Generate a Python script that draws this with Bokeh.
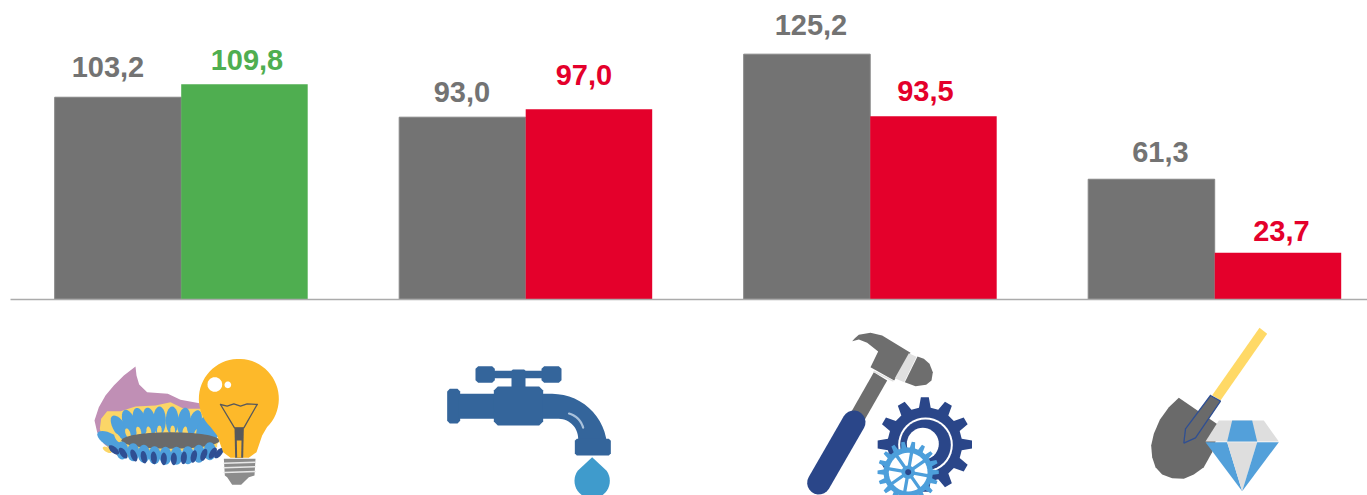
import numpy as np
from bokeh.plotting import figure
from bokeh.models import Range1d, ColumnDataSource
from bokeh.core.properties import value
from bokeh.embed import file_html
from bokeh.resources import INLINE

# ---- data ----
categories = ["Energy", "Water", "Manufacturing", "Mining"]
previous = [103.2, 93.0, 125.2, 61.3]
current = [109.8, 97.0, 93.5, 23.7]
current_colors = ["#4fae50", "#e4002b", "#e4002b", "#e4002b"]
previous_labels = ["103,2", "93,0", "125,2", "61,3"]
current_labels = ["109,8", "97,0", "93,5", "23,7"]

GRAY = "#737373"
W, H = 1367, 495
GROUP_PX, FIRST_PX, BASE_PX, PX_PER_UNIT = 344.5, 180.7, 298.7, 1.957
BAR = 126.5 / GROUP_PX

p = figure(width=W, height=H, output_backend="svg", toolbar_location=None,
           x_range=Range1d((0 - FIRST_PX) / GROUP_PX, (W - FIRST_PX) / GROUP_PX),
           y_range=Range1d(-(H - BASE_PX) / PX_PER_UNIT, BASE_PX / PX_PER_UNIT),
           min_border=0, outline_line_color=None)
p.extra_x_ranges = {"px": Range1d(0, W)}
p.extra_y_ranges = {"px": Range1d(H, 0)}
p.xaxis.visible = False
p.yaxis.visible = False
p.grid.visible = False
p.background_fill_color = "white"
PX = dict(x_range_name="px", y_range_name="px")

idx = np.arange(len(categories))
p.vbar(x=idx - BAR / 2, top=previous, bottom=0, width=BAR, fill_color=GRAY, line_color="#868686", line_width=1)
p.vbar(x=idx + BAR / 2, top=current, bottom=0, width=BAR, fill_color=current_colors, line_color=None)
p.segment(x0=[10], y0=[299], x1=[1367], y1=[299], line_color="#ababab", line_width=1.5, **PX)

prev_src = ColumnDataSource(dict(x=idx - BAR / 2, y=previous, t=previous_labels,
                                 dx=[-10, -0.5, 4, 9], dy=[-30, -25, -29, -27]))
curr_src = ColumnDataSource(dict(x=idx + BAR / 2, y=current, t=current_labels, c=current_colors,
                                 dx=[2.5, -5, -8, 3.5], dy=[-24, -34, -25, -22]))
common = dict(x="x", y="y", text="t", x_offset="dx", y_offset="dy", text_align="center",
              text_baseline="middle", text_font=value("Liberation Sans"),
              text_font_style="bold", text_font_size="29px")
p.text(source=prev_src, text_color=GRAY, **common)
p.text(source=curr_src, text_color="c", **common)


# ---- pictograms, drawn in zoom-crop coordinates (1/3 px) ----
class Icon:
    def __init__(self, ox, oy):
        self.ox, self.oy = ox, oy

    def poly(self, pts, color):
        a = np.array(pts, dtype=float)
        p.patch(self.ox + a[:, 0] / 3, self.oy + a[:, 1] / 3, fill_color=color, line_color=None, **PX)

    def line(self, pts, color, w=1.5):
        a = np.array(pts, dtype=float)
        p.line(self.ox + a[:, 0] / 3, self.oy + a[:, 1] / 3, line_color=color, line_width=w,
               line_cap="round", **PX)


def ell(cx, cy, a, b, rot=0.0, n=28):
    t = np.linspace(0, 2 * np.pi, n, endpoint=False)
    r = np.radians(rot)
    x, y = a * np.cos(t), b * np.sin(t)
    return list(zip(cx + x * np.cos(r) - y * np.sin(r), cy + x * np.sin(r) + y * np.cos(r)))


def capsule(x0, y0, x1, y1, r, n=12):
    ang = np.arctan2(y1 - y0, x1 - x0)
    t0 = np.linspace(ang + np.pi / 2, ang + 3 * np.pi / 2, n)
    t1 = np.linspace(ang - np.pi / 2, ang + np.pi / 2, n)
    return (list(zip(x0 + r * np.cos(t0), y0 + r * np.sin(t0))) +
            list(zip(x1 + r * np.cos(t1), y1 + r * np.sin(t1))))


def gear(cx, cy, r_out, r_in, teeth):
    pts = []
    for i in range(teeth):
        a = 2 * np.pi * i / teeth
        s = 2 * np.pi / teeth
        for frac, r in [(-0.30, r_in), (-0.16, r_out), (0.16, r_out), (0.30, r_in)]:
            pts.append((cx + r * np.cos(a + frac * s), cy + r * np.sin(a + frac * s)))
    return pts


def rrect(x0, y0, x1, y1, r=8):
    return [(x0 + r, y0), (x1 - r, y0), (x1, y0 + r), (x1, y1 - r), (x1 - r, y1), (x0 + r, y1), (x0, y1 - r), (x0, y0 + r)]


# burner + bulb
ic = Icon(80, 340)
ic.poly([(165, 78), (168, 105), (176, 132), (200, 155), (262, 160), (300, 178), (365, 190), (400, 300), (110, 345),
         (70, 310), (50, 275), (42, 240), (55, 200), (75, 165), (100, 135), (130, 105)], "#c08fb5")
ic.poly([(58, 265), (62, 235), (80, 212), (120, 212), (165, 198), (225, 195), (270, 185), (310, 205), (365, 205),
         (410, 260), (410, 320), (120, 350), (90, 330), (68, 300)], "#fbd667")
for cx, cy, rot in [(88, 298, -60), (118, 262, -32), (147, 248, -20), (178, 243, -15), (207, 243, -10), (237, 240, 0),
                    (275, 240, 0), (310, 243, 8), (343, 250, 15), (372, 258, 25), (398, 275, 35)]:
    ic.poly(ell(cx, cy, 19, 42, rot), "#4ea0dc")
    ic.poly(ell(cx + (cx - 245) * 0.05, cy + 30, 7, 15, rot), "#fbd667")
ic.poly(ell(270, 300, 148, 25), "#6a6a6a")
for cx, cy in [(125, 328), (158, 333), (190, 338), (222, 342), (255, 344), (288, 344), (322, 342), (355, 338), (388, 330)]:
    ic.poly(ell(cx, cy + 2, 18, 27), "#4ea0dc")
for cx, cy, rot in [(100, 328, -50), (128, 338, -35), (160, 345, -20), (190, 350, -10), (220, 352, -5), (250, 355, 0),
                    (280, 355, 0), (310, 352, 5), (340, 348, 12), (370, 343, 20), (397, 338, 30), (415, 338, 40)]:
    ic.poly(ell(cx, cy, 9, 19, rot), "#2f4f93")
t = np.radians(np.linspace(135, 405, 50))
bulb = list(zip(475 + 120 * np.cos(t), 175 + 120 * np.sin(t))) + [(545, 285), (528, 335), (505, 352), (450, 352), (428, 335), (410, 285)]
ic.poly(bulb, "#fdb92a")
ic.poly(ell(403, 132, 22, 22), "#ffffff")
ic.poly(ell(442, 133, 10, 10), "#ffffff")
ic.line([(420, 192), (440, 197), (460, 190), (480, 197), (500, 190), (530, 192)], "#58595b", 1.3)
ic.line([(420, 192), (462, 262), (490, 262), (530, 192)], "#58595b", 1.3)
ic.poly([(462, 262), (490, 262), (488, 352), (464, 352)], "#58595b")
ic.poly([(469, 300), (483, 300), (482, 352), (470, 352)], "#fdb92a")
ic.poly([(430, 355), (525, 355), (522, 405), (505, 410), (482, 433), (455, 433), (440, 410), (433, 405)], "#8c8c8c")
for y in (368, 382, 396):
    ic.line([(431, y), (524, y - 3)], "#e8e8e8", 1.5)

# faucet
ic = Icon(435, 355)
BLUE = "#34659b"
ic.poly(rrect(120, 32, 178, 82), BLUE)
ic.poly(rrect(318, 32, 378, 82), BLUE)
ic.poly([(175, 46), (320, 46), (320, 68), (175, 68)], BLUE)
ic.poly(rrect(228, 42, 270, 105, 4), BLUE)
ic.poly(rrect(35, 100, 74, 204), BLUE)
ic.poly([(70, 115), (180, 115), (180, 190), (70, 190)], BLUE)
ic.poly(rrect(175, 93, 323, 210, 12), BLUE)
a = np.radians(np.linspace(-90, 0, 16))
outer = list(zip(350 + 165 * np.cos(a), 280 + 165 * np.sin(a)))
a2 = np.radians(np.linspace(0, -90, 16))
inner = list(zip(370 + 58 * np.cos(a2), 250 + 60 * np.sin(a2)))
ic.poly([(320, 115)] + outer + [(515, 260), (428, 260)] + inner + [(320, 190)], BLUE)
ic.poly(rrect(418, 250, 526, 300, 6), BLUE)
a = np.radians(np.linspace(-75, -15, 10))
ic.line(list(zip(385 + 60 * np.cos(a), 232 + 60 * np.sin(a))), "#a9c2dc", 2.2)
t = np.radians(np.linspace(-35, 215, 30))
ic.poly([(470, 305)] + list(zip(470 + 53 * np.cos(t), 376 + 53 * np.sin(t))), "#3f9bcc")

# hammer + gears
ic = Icon(795, 325)
HAM = "#6e6e6e"
ic.poly([(235, 140), (275, 165), (208, 282), (168, 258)], HAM)
ic.poly([(170, 47), (178, 38), (190, 28), (225, 22), (260, 30), (345, 82), (296, 165), (225, 125), (248, 78), (215, 52), (190, 42)], HAM)
ic.line([(236, 138), (292, 166)], "#e0e0e0", 1.5)
ic.poly([(340, 83), (363, 94), (326, 170), (298, 158)], "#e0e0e0")
ic.poly([(366, 93), (385, 100), (402, 115), (412, 140), (408, 165), (392, 178), (360, 182), (328, 170)], HAM)
ic.poly(capsule(175, 290, 70, 472, 35), "#2a4689")
ic.poly(gear(388, 357, 142, 112, 12), "#2a4689")
ic.poly(ell(390, 358, 82, 82, n=40), "#ffffff")
ic.poly(ell(390, 358, 76, 76, n=40), "#2a4689")
ic.poly(ell(382, 355, 48, 48, n=40), "#ffffff")
ic.poly(gear(338, 440, 92, 74, 18), "#4d9fdb")
ic.poly(ell(338, 440, 58, 58, n=40), "#ffffff")
for ang in range(0, 360, 45):
    r = np.radians(ang + 10)
    ic.line([(338, 440), (338 + 62 * np.cos(r), 440 + 62 * np.sin(r))], "#4d9fdb", 3.3)
ic.poly(ell(338, 440, 20, 20), "#4d9fdb")
ic.poly(ell(338, 440, 9, 9), "#2a4689")

# shovel + diamond
ic = Icon(1140, 320)
ic.poly([(357, 22), (380, 40), (240, 240), (215, 224)], "#ffd966")
ic.poly([(115, 232), (232, 312), (226, 360), (215, 395), (190, 440), (160, 462), (130, 475), (95, 473), (65, 462),
         (45, 440), (35, 410), (32, 375), (40, 340), (58, 298), (85, 260)], "#6a6a6a")
ic.poly([(210, 225), (240, 242), (165, 352), (130, 368), (135, 325)], "#6a6a6a")
ic.line([(210, 225), (240, 242), (165, 352), (130, 368), (135, 325), (210, 225)], "#2f4f93", 1.3)
ic.poly([(235, 300), (370, 300), (415, 363), (195, 363)], "#dedede")
ic.poly([(275, 300), (335, 300), (350, 363), (260, 363)], "#53a0da")
ic.poly([(195, 365), (260, 365), (305, 512)], "#53a0da")
ic.poly([(260, 365), (350, 365), (305, 512)], "#dedede")
ic.poly([(350, 365), (415, 365), (305, 512)], "#53a0da")

open("out.html", "w").write(file_html(p, INLINE))
